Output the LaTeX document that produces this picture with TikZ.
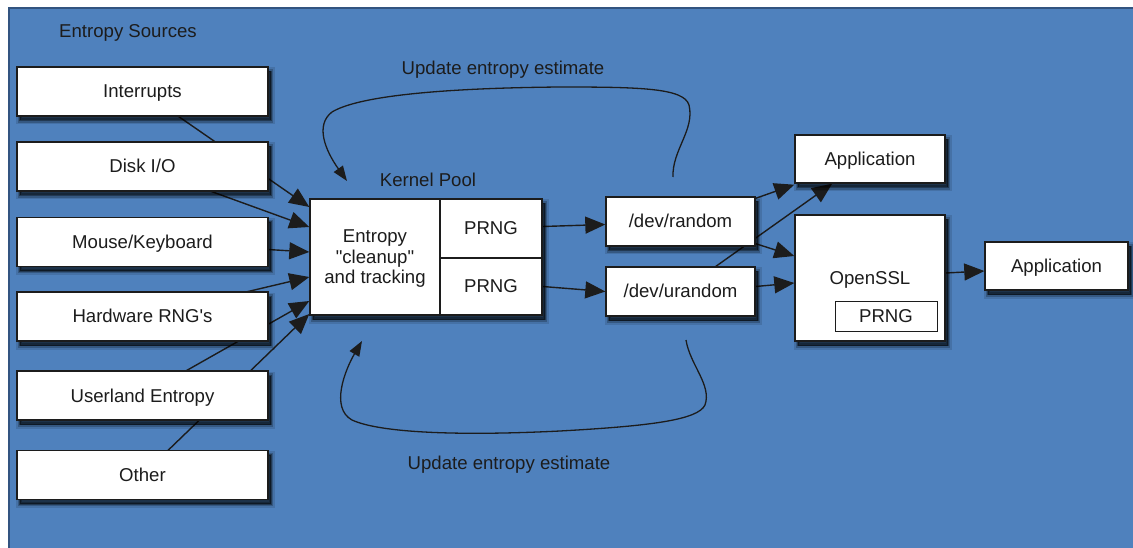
\documentclass[tikz,border=0pt]{standalone}
\usepackage{fontspec}
\setmainfont{Liberation Sans}[Ligatures=TeXOff]
\usetikzlibrary{arrows.meta,shadows,calc}
\definecolor{bgblue}{RGB}{79,129,189}
\definecolor{bgedge}{RGB}{50,84,128}
\definecolor{ink}{RGB}{28,28,28}
\pgfdeclarelayer{backdrop}
\pgfdeclarelayer{wires}
\pgfsetlayers{backdrop,wires,main}
\begin{document}
\begin{tikzpicture}[x=1pt,y=-1pt,
  txt/.style={text=ink,font=\fontsize{18.6}{20.5}\selectfont,align=center,inner sep=0pt},
  line1/.style={text height=13pt,text depth=0pt},
  cell/.style={txt,draw=ink,line width=1.4pt,fill=white},
  soft/.style={
    drop shadow={shadow xshift=3pt,shadow yshift=-4.5pt,fill=black,draw=black,line width=8pt,opacity=.12},
    drop shadow={shadow xshift=3pt,shadow yshift=-4.5pt,fill=black,draw=black,line width=4.5pt,opacity=.22},
    drop shadow={shadow xshift=3pt,shadow yshift=-4.5pt,fill=black,draw=black,line width=1.5pt,opacity=.35}},
  box/.style={cell,soft},
  srcbox/.style={box,line1,minimum width=251pt,minimum height=49pt},
  wire/.style={draw=ink,line width=1.4pt,-{Triangle[length=20pt,width=17pt]}},
  loop/.style={draw=ink,line width=1.3pt,-{Triangle[length=15pt,width=11pt]}}
]
\useasboundingbox (0,0) rectangle (1133,548);

% blue panel with a darker top and left rim
\begin{pgfonlayer}{backdrop}
  \fill[bgblue] (9,8) rectangle (1133,548);
  \draw[bgedge,line width=2pt] (9,548) -- (9,8) -- (1133,8);
\end{pgfonlayer}

% headings
\node[txt,line1] (srcs) at (128,31) {Entropy Sources};
\node[txt,line1] (pool) at (428,180) {Kernel Pool};
\node[txt,line1] (uptop) at (503,68) {Update entropy estimate};
\node[txt,line1] (upbot) at (509,463) {Update entropy estimate};

% entropy sources
\node[srcbox] (intr)  at (142.5,91.5)  {Interrupts};
\node[srcbox] (disk)  at (142.5,166.5) {Disk I/O};
\node[srcbox] (mouse) at (142.5,242)   {Mouse/Keyboard};
\node[srcbox] (hw)    at (142.5,316.5) {Hardware RNG's};
\node[srcbox] (user)  at (142.5,395.5) {Userland Entropy};
\node[srcbox] (other) at (142.5,475)   {Other};

% kernel pool block: one shadow behind the three cells
\path[fill=white,soft] (310,199) rectangle (542,315);
\node[cell,text depth=-1pt,minimum width=130pt,minimum height=116pt] (ent) at (375,257)
  {Entropy\\"cleanup"\\and tracking};
\node[cell,line1,minimum width=102pt,minimum height=59pt] (p1) at (491,228.5) {PRNG};
\node[cell,line1,minimum width=102pt,minimum height=57pt] (p2) at (491,286.5) {PRNG};

% device files
\node[box,line1,minimum width=149pt,minimum height=49pt] (rand)  at (680.5,221.5) {/dev/random};
\node[box,line1,minimum width=149pt,minimum height=49pt] (urand) at (680.5,291.5) {/dev/urandom};

% consumers
\node[box,line1,minimum width=150pt,minimum height=48pt] (app1) at (870,159) {Application};
\node[box,line1,minimum width=150pt,minimum height=126pt] (ssl) at (870,278) {OpenSSL};
\node[cell,line1,line width=1pt,minimum width=102pt,minimum height=30pt] (sslp) at (886,316) {PRNG};
\node[box,line1,minimum width=143pt,minimum height=48pt] (app2) at (1056.5,266) {Application};

% free ends of the feedback loops
\coordinate (ts) at (673,177);
\coordinate (te) at (347,181);
\coordinate (bs) at (686,340);
\coordinate (be) at (362,341);

\begin{pgfonlayer}{wires}
  % sources into the pool
  \draw[wire] (intr.center)  -- ([yshift=50pt]ent.west);
  \draw[wire] (disk.center)  -- ([yshift=30pt]ent.west);
  \draw[wire] (mouse.center) -- ([yshift=5pt]ent.west);
  \draw[wire] (hw.center)    -- ([yshift=-20pt]ent.west);
  \draw[wire] (user.center)  -- ([yshift=-44pt]ent.west);
  \draw[wire] (other.center) -- ([yshift=-57pt]ent.west);
  % generators to device files
  \draw[wire] ([yshift=2pt]p1.east) -- ([yshift=-3pt]rand.west);
  \draw[wire] (p2.east) -- (urand.west);
  % device files to consumers
  \draw[wire] ([yshift=-2pt]rand.north east) -- ([yshift=-1pt]app1.south west);
  \draw[wire] ([yshift=3pt]rand.south east) -- ([yshift=22pt]ssl.west);
  \draw[wire] (urand.center) -- ($(app1.south west)!0.25!(app1.south east)$);
  \draw[wire] ([yshift=5pt]urand.east) -- ([yshift=-5pt]ssl.west);
  \draw[wire] ([yshift=5pt]ssl.east) -- ([yshift=-5pt]app2.west);
  % entropy estimate feedback
  \draw[loop] (ts) .. controls (672,150) and (695,130) .. (689,105)
    .. controls (684,88) and (640,87) .. (560,87)
    .. controls (450,88) and (360,95) .. (332,112)
    .. controls (315,125) and (325,150) .. (te);
  \draw[loop] (bs) .. controls (690,365) and (712,385) .. (705,405)
    .. controls (698,420) and (650,426) .. (560,431)
    .. controls (460,436) and (380,433) .. (352,420)
    .. controls (330,408) and (345,370) .. (be);
\end{pgfonlayer}
\end{tikzpicture}
\end{document}
